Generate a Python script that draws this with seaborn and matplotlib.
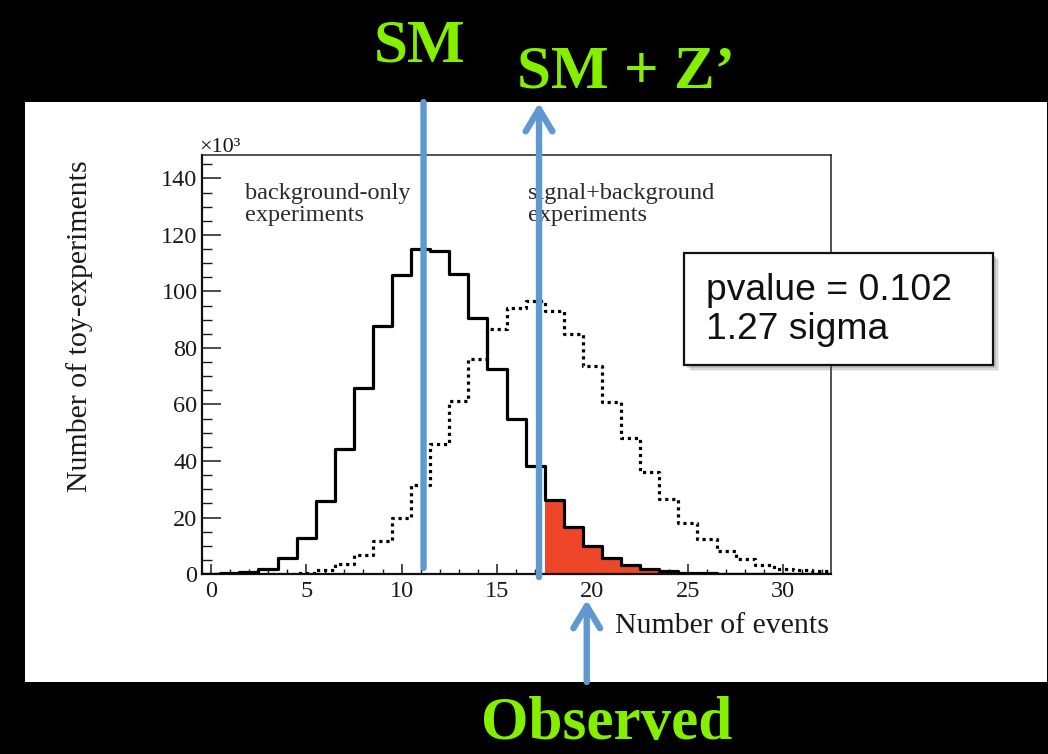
import numpy as np
import pandas as pd
import matplotlib
matplotlib.use("Agg")
import matplotlib.pyplot as plt
from matplotlib.patches import Rectangle
from matplotlib.ticker import MultipleLocator
import seaborn as sns

# ---- data: toy-experiment counts (in thousands) per number of events ----
n_events = list(range(0, 33))
bkg_only = [0.05, 0.2, 0.8, 1.8, 5.6, 12.6, 25.7, 44.2, 65.8, 87.8, 105.9,
            115.0, 114.5, 106.1, 90.7, 72.7, 54.8, 38.3, 26.2, 16.5, 10.0,
            5.8, 3.2, 1.9, 1.1, 0.5, 0.25, 0.1, 0.05, 0.02, 0.01, 0.0, 0.0]
sig_plus_bkg = [0.0, 0.0, 0.0, 0.0, 0.1, 0.4, 1.3, 3.7, 6.8, 11.7, 20.0,
                31.4, 45.9, 61.3, 76.0, 86.6, 94.3, 96.7, 93.1, 84.9, 73.7,
                60.9, 48.3, 36.2, 26.5, 18.2, 12.3, 8.2, 5.2, 3.1, 1.9, 1.3, 1.0]
tail_first_bin = 18          # first bin of the shaded background tail
sm_expected = 11.15          # SM expectation marker
sm_zp_expected = 17.2        # SM + Z' expectation marker
observed = 19.7              # observed number of events
x_ticks = [0, 5, 10, 15, 20, 25, 30]
y_ticks = [0, 20, 40, 60, 80, 100, 120, 140]
pvalue_text = "pvalue = 0.102\n1.27 sigma"

df = pd.DataFrame({"n": n_events, "bkg": bkg_only, "spb": sig_plus_bkg})
edges = [n - 0.5 for n in n_events] + [n_events[-1] + 0.5]
tail_df = df[df["n"] >= tail_first_bin]
tail_edges = [e for e in edges if e >= tail_first_bin - 0.5]

# ---- style ----
sns.set_theme(style="white")
plt.rcParams["font.family"] = ["Liberation Serif", "DejaVu Serif"]

GREEN = "#84F000"
BLUE = "#6098D0"
RED = "#EE4628"

fig = plt.figure(figsize=(10.48, 7.54), dpi=100, facecolor="black")

# white slide panel
fig.add_artist(Rectangle((0.0239, 0.0955), 0.975, 0.769, transform=fig.transFigure,
                         facecolor="white", edgecolor="none", zorder=-5))

ax = fig.add_axes([0.1925, 0.2387, 0.6005, 0.5557])
ax.set_facecolor("white")

# shaded tail of the background-only distribution
sns.histplot(data=tail_df, x="n", weights="bkg", bins=tail_edges, common_bins=False,
             element="step", fill=True, color=RED, alpha=1.0, linewidth=0,
             ax=ax, zorder=1)
# background-only experiments
sns.histplot(data=df, x="n", weights="bkg", bins=edges, common_bins=False,
             element="step", fill=False, color="black", linewidth=2.3,
             ax=ax, zorder=3)
# signal+background experiments
sns.histplot(data=df, x="n", weights="spb", bins=edges, common_bins=False,
             element="step", fill=False, color="black", linewidth=2.3,
             linestyle=(0, (1.0, 1.2)), ax=ax, zorder=2)

ax.set_xlim(-0.47, 32.5)
ax.set_ylim(0, 148.3)
ax.set_xlabel("")
ax.set_ylabel("")
ax.set_xticks(x_ticks)
ax.set_yticks(y_ticks)
ax.xaxis.set_minor_locator(MultipleLocator(1))
ax.yaxis.set_minor_locator(MultipleLocator(5))
ax.tick_params(axis="x", which="major", direction="in", length=7, width=1.1,
               labelsize=17.5, pad=5, colors="#1a1a1a", bottom=True, top=False)
ax.tick_params(axis="x", which="minor", direction="in", length=3.5, width=1.0,
               bottom=True, top=False, colors="#1a1a1a")
ax.tick_params(axis="y", which="major", direction="in", length=14, width=1.1,
               labelsize=17.5, pad=3, colors="#1a1a1a", left=True, right=False)
ax.tick_params(axis="y", which="minor", direction="in", length=7.5, width=1.0,
               left=True, right=False, colors="#1a1a1a")
for side in ["top", "right"]:
    ax.spines[side].set_linewidth(1.1)
    ax.spines[side].set_color("#222222")
for side in ["left", "bottom"]:
    ax.spines[side].set_linewidth(1.6)
    ax.spines[side].set_color("#111111")

# axis titles and exponent label
fig.text(0.0763, 0.568, "Number of toy-experiments", rotation=90, ha="center",
         va="center", fontsize=21.5, color="#1a1a1a")
fig.text(0.791, 0.1605, "Number of events", ha="right", va="baseline",
         fontsize=21.5, color="#1a1a1a")
fig.text(0.1905, 0.799, "×10³", ha="left", va="baseline", fontsize=16, color="#1a1a1a")

# sample descriptions
ax.text(1.8, 138.5, "background-only\nexperiments", ha="left", va="top",
        fontsize=17.5, color="#2a2a2a", linespacing=1.05)
ax.text(16.6, 138.5, "signal+background\nexperiments", ha="left", va="top",
        fontsize=17.5, color="#2a2a2a", linespacing=1.05)

# p-value box with drop shadow
bx, by, bw, bh = 0.6527, 0.5159, 0.2948, 0.1485
for k, a in enumerate([0.10, 0.14, 0.20]):
    off = 0.0062 - k * 0.0015
    fig.add_artist(Rectangle((bx + off, by - off * 1.35), bw, bh,
                             transform=fig.transFigure, facecolor="#555555",
                             edgecolor="none", alpha=a, zorder=5))
fig.add_artist(Rectangle((bx, by), bw, bh, transform=fig.transFigure,
                         facecolor="white", edgecolor="#111111", linewidth=1.6,
                         zorder=6))
fig.text(0.6737, 0.589, pvalue_text, ha="left", va="center", fontsize=26.8,
         family=["Liberation Sans", "DejaVu Sans"], color="#111111",
         linespacing=1.12, zorder=7)

# expectation / observation markers spanning the slide
mark = dict(xycoords=("data", "figure fraction"), textcoords=("data", "figure fraction"),
            annotation_clip=False, zorder=8)
ax.annotate("", xy=(sm_expected, 0.8647), xytext=(sm_expected, 0.2467),
            arrowprops=dict(arrowstyle="-", lw=4.6, color=BLUE,
                            shrinkA=0, shrinkB=0), **mark)
ax.annotate("", xy=(sm_zp_expected, 0.8635), xytext=(sm_zp_expected, 0.2347),
            arrowprops=dict(arrowstyle="->,head_length=1.0,head_width=0.6",
                            lw=4.6, color=BLUE, mutation_scale=16,
                            shrinkA=0, shrinkB=0), **mark)
ax.annotate("", xy=(observed, 0.2045), xytext=(observed, 0.0955),
            arrowprops=dict(arrowstyle="->,head_length=1.0,head_width=0.6",
                            lw=4.6, color=BLUE, mutation_scale=16,
                            shrinkA=0, shrinkB=0), **mark)

# slide labels
fig.text(0.4008, 0.9178, "SM", ha="center", va="baseline", fontsize=44,
         fontweight="bold", color=GREEN)
fig.text(0.597, 0.8833, "SM + Z’", ha="center", va="baseline", fontsize=44,
         fontweight="bold", color=GREEN)
fig.text(0.579, 0.0195, "Observed", ha="center", va="baseline", fontsize=44,
         fontweight="bold", color=GREEN)

fig.savefig("out.png", dpi=100, facecolor="black")
